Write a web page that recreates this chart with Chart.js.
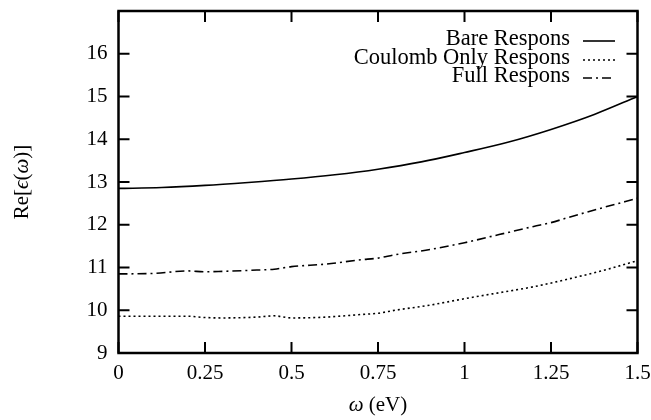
<!DOCTYPE html>
<html>
<head>
<meta charset="utf-8">
<script src="https://cdn.jsdelivr.net/npm/chart.js@4.4.1/dist/chart.umd.min.js"></script>
<style>
  html, body { margin: 0; padding: 0; background: #fff; }
  #wrap { width: 651px; height: 420px; }
</style>
</head>
<body>
<div id="wrap"><canvas id="epsChart" width="651" height="420"></canvas></div>
<script>
// values
const omegaBare = [0, 0.125, 0.25, 0.375, 0.5, 0.625, 0.75, 0.875, 1.0, 1.125, 1.25, 1.375, 1.5];
const bareRespons = [12.85, 12.87, 12.92, 12.99, 13.07, 13.17, 13.3, 13.47, 13.69, 13.93, 14.23, 14.58, 15.0];

const omegaCoul = [0, 0.1, 0.2, 0.25, 0.3, 0.4, 0.45, 0.5, 0.6, 0.7, 0.75, 0.8, 0.9, 1.0, 1.1, 1.2, 1.3, 1.4, 1.5];
const coulombRespons = [9.86, 9.86, 9.86, 9.83, 9.82, 9.84, 9.87, 9.82, 9.84, 9.9, 9.93, 10.0, 10.12, 10.27, 10.41, 10.55, 10.73, 10.93, 11.16];

const omegaFull = [0, 0.1, 0.2, 0.25, 0.3, 0.4, 0.45, 0.5, 0.6, 0.7, 0.75, 0.8, 0.9, 1.0, 1.1, 1.2, 1.25, 1.3, 1.4, 1.5];
const fullRespons = [10.85, 10.86, 10.92, 10.9, 10.91, 10.94, 10.96, 11.02, 11.08, 11.18, 11.22, 11.3, 11.42, 11.58, 11.77, 11.96, 12.05, 12.17, 12.4, 12.62];

const xTicks = [0, 0.25, 0.5, 0.75, 1, 1.25, 1.5];
const xTickLabels = ['0', '0.25', '0.5', '0.75', '1', '1.25', '1.5'];
const yTicks = [9, 10, 11, 12, 13, 14, 15, 16];

const serif = "'Liberation Serif', 'DejaVu Serif', serif";

function pts(xs, ys) {
    return xs.map((x, i) => ({ x: x, y: ys[i] }));
}

// write a label made of pieces, some italic (math letters)
function drawPieces(ctx, pieces, cx, cy, size) {
    let total = 0;
    pieces.forEach(p => {
        ctx.font = (p[1] ? 'italic ' : '') + size + 'px ' + serif;
        total += ctx.measureText(p[0]).width;
    });
    let x = cx - total / 2;
    ctx.textAlign = 'left';
    ctx.textBaseline = 'middle';
    pieces.forEach(p => {
        ctx.font = (p[1] ? 'italic ' : '') + size + 'px ' + serif;
        ctx.fillText(p[0], x, cy);
        x += ctx.measureText(p[0]).width;
    });
}

// gnuplot-like frame with inward ticks on all four sides, plus axis titles
const framePlugin = {
    id: 'frame',
    afterDatasetsDraw(chart) {
        const ctx = chart.ctx;
        const a = chart.chartArea;
        const xs = chart.scales.x, ys = chart.scales.y;
        const len = 11;
        ctx.save();
        ctx.strokeStyle = '#000';
        ctx.lineWidth = 2;
        ctx.beginPath();
        xTicks.forEach(v => {
            const px = xs.getPixelForValue(v);
            ctx.moveTo(px, a.bottom); ctx.lineTo(px, a.bottom - len);
            ctx.moveTo(px, a.top); ctx.lineTo(px, a.top + len);
        });
        yTicks.forEach(v => {
            const py = ys.getPixelForValue(v);
            ctx.moveTo(a.left, py); ctx.lineTo(a.left + len, py);
            ctx.moveTo(a.right, py); ctx.lineTo(a.right - len, py);
        });
        ctx.stroke();
        ctx.lineWidth = 2.5;
        ctx.strokeRect(a.left, a.top, a.right - a.left, a.bottom - a.top);

        ctx.fillStyle = '#000';
        drawPieces(ctx, [['ω', true], [' (eV)', false]], (a.left + a.right) / 2, 405, 21);
        ctx.translate(22, (a.top + a.bottom) / 2);
        ctx.rotate(-Math.PI / 2);
        drawPieces(ctx, [['Re[', false], ['ϵ', true], ['(', false], ['ω', true], [')]', false]], 0, 0, 21);
        ctx.restore();
    }
};

// legend: right-aligned text followed by a line sample
const keyPlugin = {
    id: 'key',
    afterDraw(chart) {
        const ctx = chart.ctx;
        const textRight = 570, s0 = 583, s1 = 615;
        const rows = [39, 58, 76];
        ctx.save();
        ctx.font = '22.5px ' + serif;
        ctx.fillStyle = '#000';
        ctx.textAlign = 'right';
        ctx.textBaseline = 'middle';
        chart.data.datasets.forEach((ds, i) => {
            const y = rows[i];
            ctx.fillText(ds.label, textRight, y);
            ctx.strokeStyle = '#000';
            ctx.lineWidth = ds.borderWidth;
            ctx.setLineDash(ds.borderDash || []);
            ctx.beginPath();
            ctx.moveTo(s0, y + 2);
            ctx.lineTo(s1, y + 2);
            ctx.stroke();
        });
        ctx.restore();
    }
};

const ctx = document.getElementById('epsChart').getContext('2d');
new Chart(ctx, {
    type: 'line',
    data: {
        datasets: [{
            label: 'Bare Respons',
            data: pts(omegaBare, bareRespons),
            borderColor: '#000',
            borderWidth: 1.6,
            pointRadius: 0,
            cubicInterpolationMode: 'monotone',
            fill: false
        }, {
            label: 'Coulomb Only Respons',
            data: pts(omegaCoul, coulombRespons),
            borderColor: '#000',
            borderWidth: 1.6,
            borderDash: [2, 3],
            pointRadius: 0,
            cubicInterpolationMode: 'monotone',
            fill: false
        }, {
            label: 'Full Respons',
            data: pts(omegaFull, fullRespons),
            borderColor: '#000',
            borderWidth: 1.6,
            borderDash: [9, 4, 2, 4],
            pointRadius: 0,
            cubicInterpolationMode: 'monotone',
            fill: false
        }]
    },
    options: {
        responsive: false,
        animation: false,
        layout: { padding: { top: 11, right: 13.5, left: 0, bottom: 0 } },
        plugins: {
            legend: { display: false },
            tooltip: { enabled: false }
        },
        scales: {
            x: {
                type: 'linear',
                min: 0,
                max: 1.5,
                grid: { display: false, drawTicks: false },
                border: { display: false },
                afterBuildTicks: s => { s.ticks = xTicks.map(v => ({ value: v })); },
                afterFit: s => { s.height = 67; s.paddingLeft = 0; s.paddingRight = 0; },
                ticks: {
                    color: '#000',
                    padding: 8,
                    maxRotation: 0,
                    font: { family: serif, size: 21 },
                    callback: v => xTickLabels[xTicks.indexOf(v)]
                }
            },
            y: {
                min: 9,
                max: 17,
                grid: { display: false, drawTicks: false },
                border: { display: false },
                afterBuildTicks: s => { s.ticks = yTicks.map(v => ({ value: v })); },
                afterFit: s => { s.width = 118.5; s.paddingTop = 0; s.paddingBottom = 0; },
                ticks: {
                    color: '#000',
                    padding: 11,
                    font: { family: serif, size: 21 }
                }
            }
        }
    },
    plugins: [framePlugin, keyPlugin]
});
</script>
</body>
</html>
